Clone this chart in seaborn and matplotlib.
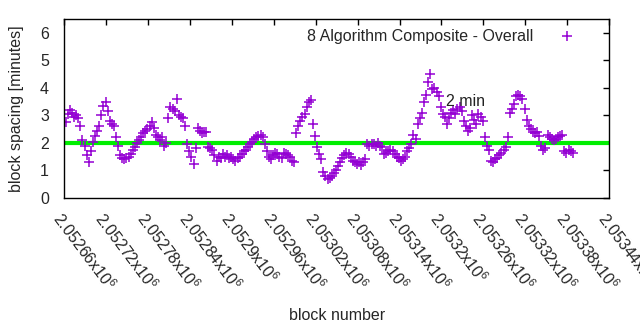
import numpy as np
import pandas as pd
import matplotlib
matplotlib.use("Agg")
import matplotlib.pyplot as plt
import seaborn as sns

# ---- data ----
block_start = 2052662
block_step = 3
spacing = [
    2.75, 3.05, 3.2, 3.1, 2.95, 3.0, 2.9, 2.6, 2.1, 1.9,
    1.55, 1.3, 1.7, 2.05, 2.25, 2.45, 2.6, 3.0, 3.35, 3.5,
    3.15, 2.8, 2.7, 2.6, 2.2, 1.9, 1.55, 1.45, 1.4, 1.45,
    1.5, 1.6, 1.75, 1.85, 2.0, 2.1, 2.2, 2.35, 2.45, 2.5,
    2.6, 2.75, 2.55, 2.3, 2.2, 2.1, 2.2, 1.9, 2.0, 2.9,
    3.3, 3.25, 3.15, 3.6, 3.0, 2.95, 2.9, 2.6, 1.95, 1.7,
    1.5, 1.25, 1.8, 2.55, 2.45, 2.35, 2.4, 2.4, 1.85, 1.8,
    1.75, 1.55, 1.35, 1.5, 1.45, 1.6, 1.5, 1.55, 1.45, 1.5,
    1.4, 1.35, 1.45, 1.5, 1.6, 1.7, 1.75, 1.85, 1.95, 2.05,
    2.15, 2.2, 2.25, 2.3, 2.2, 1.95, 1.7, 1.5, 1.4, 1.55,
    1.65, 1.6, 1.5, 1.45, 1.65, 1.6, 1.55, 1.5, 1.35, 1.3,
    2.35, 2.6, 2.8, 2.95, 3.05, 3.3, 3.5, 3.55, 2.7, 2.25,
    1.85, 1.6, 1.4, 0.95, 0.8, 0.7, 0.72, 0.8, 0.9, 1.0,
    1.15, 1.3, 1.45, 1.55, 1.65, 1.6, 1.5, 1.35, 1.3, 1.25,
    1.3, 1.2, 1.3, 1.4, 1.95, 1.9, 1.95, 1.95, 1.9, 2.0,
    1.9, 1.85, 1.6, 1.65, 1.7, 1.75, 1.7, 1.6, 1.5, 1.45,
    1.35, 1.4, 1.5, 1.7, 1.8, 1.95, 2.3, 2.15, 2.7, 2.9,
    3.1, 3.5, 3.75, 4.2, 4.5, 3.95, 4.0, 3.85, 3.7, 3.3,
    3.05, 2.95, 2.7, 2.9, 3.1, 3.2, 3.05, 3.25, 3.3, 3.15,
    2.8, 2.6, 2.45, 2.55, 3.0, 2.85, 2.7, 3.05, 2.95, 2.8,
    2.2, 1.9, 1.75, 1.35, 1.3, 1.4, 1.45, 1.55, 1.65, 1.75,
    1.85, 2.2, 3.1, 3.25, 3.4, 3.7, 3.75, 3.7, 3.6, 3.25,
    2.85, 2.6, 2.5, 2.4, 2.35, 2.4, 2.25, 1.9, 1.75, 1.8,
    2.3, 2.2, 2.15, 2.1, 2.15, 2.2, 2.25, 2.3, 1.7, 1.65,
    1.75, 1.7, 1.65,
]
blocks = block_start + block_step * np.arange(len(spacing))
series_label = "8 Algorithm Composite - Overall"
target_minutes = 2
target_label = "2 min"
target_label_pos = (2053207, 3.5)
x_ticks = [2052660 + 60 * k for k in range(14)]
y_ticks = [0, 1, 2, 3, 4, 5, 6]

df = pd.DataFrame({"block": blocks, "spacing": spacing})

# ---- styling ----
sns.set_style("white")
plt.rcParams["font.family"] = ["Liberation Sans", "DejaVu Sans"]
plt.rcParams["mathtext.fontset"] = "custom"
plt.rcParams["mathtext.rm"] = "Liberation Sans"
plt.rcParams["mathtext.it"] = "Liberation Sans"
FS = 11.5

fig = plt.figure(figsize=(6.4, 3.3), dpi=100)
ax = fig.add_axes([0.1005, 0.4, 0.8511, 0.5424])

purple = "#9400D3"
ax.axhline(target_minutes, color="#00EE00", lw=3.0, zorder=1)
sns.scatterplot(data=df, x="block", y="spacing", marker="+", s=48,
                color=purple, linewidth=1.1, ax=ax, label=series_label, zorder=2)

ax.set_xlim(2052660, 2053440)
ax.set_ylim(0, 6.5)
ax.set_xticks(x_ticks)
ax.set_xticklabels([f"{t/1e6:.6g}x10$^{{6}}$" for t in x_ticks],
                   rotation=-53, ha="left", va="top", rotation_mode="anchor",
                   fontsize=FS)
ax.set_yticks(y_ticks)
ax.set_yticklabels([str(v) for v in y_ticks], fontsize=FS)
ax.tick_params(axis="both", direction="in", length=4, width=1, color="black",
               top=True, right=True, labeltop=False, labelright=False)
ax.tick_params(axis="x", pad=8)
ax.tick_params(axis="y", pad=11)
for sp in ax.spines.values():
    sp.set_color("black")
    sp.set_linewidth(1.0)

ax.set_xlabel("block number", fontsize=FS)
ax.xaxis.set_label_coords(0.5, -0.654)
ax.xaxis.label.set_verticalalignment("center")
ax.set_ylabel("block spacing [minutes]", fontsize=FS)
ax.yaxis.set_label_coords(-0.088, 0.5)
ax.yaxis.label.set_verticalalignment("center")
ax.text(target_label_pos[0], target_label_pos[1], target_label,
        fontsize=FS, ha="left", va="center", color="#222222")

leg = ax.legend(loc="upper right", frameon=False, markerfirst=False,
                fontsize=FS, handletextpad=1.35, borderaxespad=0.2,
                handlelength=1.5, bbox_to_anchor=(0.962, 1.0))

fig.savefig("out.png", dpi=100)
